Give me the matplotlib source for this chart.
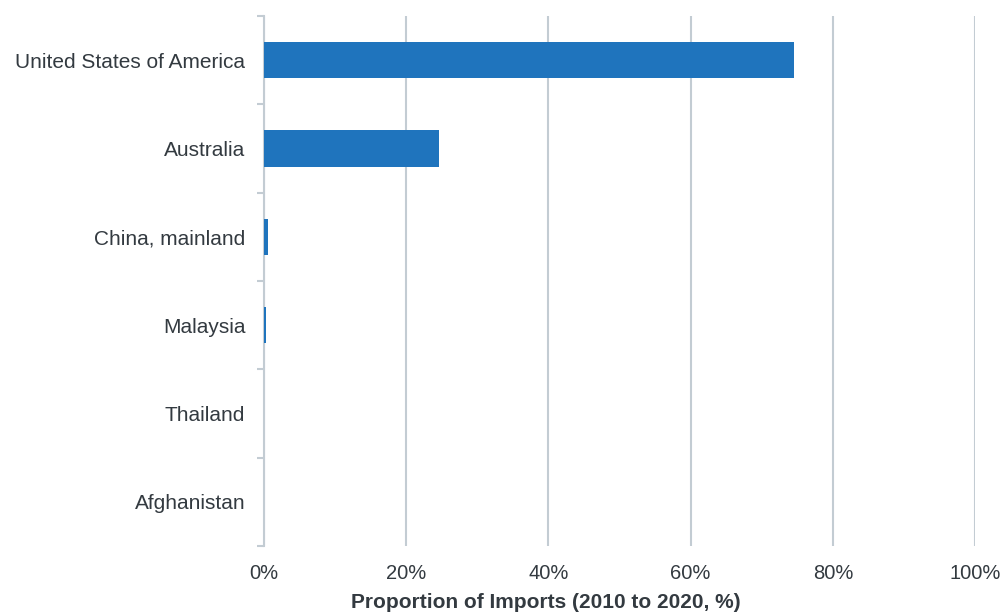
import matplotlib
matplotlib.use("Agg")
import matplotlib.pyplot as plt
import numpy as np

countries = ["United States of America", "Australia", "China, mainland",
             "Malaysia", "Thailand", "Afghanistan"]
shares = [74.5, 24.6, 0.5, 0.25, 0.0, 0.0]
xticks = [0, 20, 40, 60, 80, 100]
xticklabels = ["0%", "20%", "40%", "60%", "80%", "100%"]

plt.rcParams["font.family"] = ["Liberation Sans", "DejaVu Sans"]
text_color = "#333a40"
grid_color = "#c3ccd3"
bar_color = "#1f74bd"

fig = plt.figure(figsize=(10.05, 6.12), dpi=100)
ax = fig.add_axes([0.2627, 0.1078, 0.7075, 0.8661])

y = np.arange(len(countries))
ax.barh(y, shares, height=0.41, color=bar_color, zorder=3)

ax.set_ylim(len(countries) - 0.5, -0.5)
ax.set_xlim(0, 100)

ax.set_xticks(xticks)
ax.set_xticklabels(xticklabels, fontsize=14.5, color=text_color)
ax.tick_params(axis="x", length=0, pad=13)
ax.xaxis.grid(True, color=grid_color, linewidth=1.5, zorder=0)

ax.set_yticks(y)
ax.set_yticklabels(countries, fontsize=15, color=text_color)
ax.tick_params(axis="y", which="major", length=0, pad=13.5)
ax.set_yticks(np.arange(-0.5, len(countries)), minor=True)
ax.tick_params(axis="y", which="minor", length=5, width=1.5, color=grid_color)

for side in ["top", "right", "bottom"]:
    ax.spines[side].set_visible(False)
ax.spines["left"].set_color(grid_color)
ax.spines["left"].set_linewidth(1.5)

fig.text(546 / 1005, 1 - 603 / 612, "Proportion of Imports (2010 to 2020, %)",
         fontsize=15, fontweight="bold", color=text_color,
         ha="center", va="center")

fig.savefig("out.png", dpi=100)
